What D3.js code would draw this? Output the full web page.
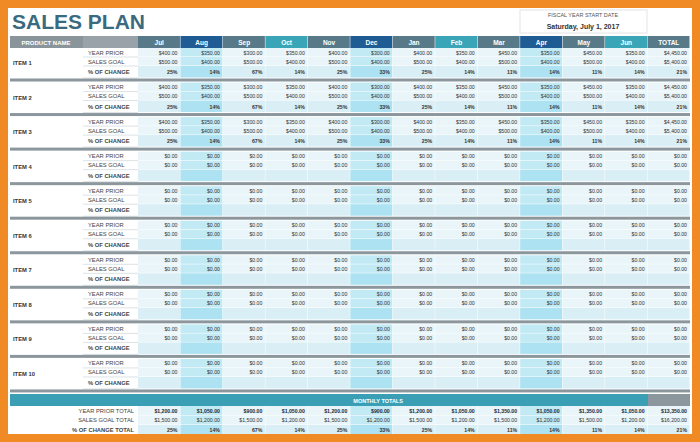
<!DOCTYPE html>
<html><head><meta charset="utf-8">
<script src="https://cdn.jsdelivr.net/npm/d3@7"></script>
<style>body{margin:0;background:#fff}svg{display:block;font-family:"Liberation Sans",Arial,sans-serif}</style>
</head><body><svg id="c" width="700" height="442"></svg>
<script>
const MONTHS = ["Jul","Aug","Sep","Oct","Nov","Dec","Jan","Feb","Mar","Apr","May","Jun","TOTAL"];
const HEAD_KIND = ["s","b","s","t","s","b","s","t","s","b","s","t","s"];
const ITEMS = ["ITEM 1","ITEM 2","ITEM 3","ITEM 4","ITEM 5","ITEM 6","ITEM 7","ITEM 8","ITEM 9","ITEM 10"];
const YEAR_PRIOR = [400,350,300,350,400,300,400,350,450,350,450,350,4450];
const SALES_GOAL = [500,400,500,400,500,400,500,400,500,400,500,400,5400];
const PCT_CHANGE = [25,14,67,14,25,33,25,14,11,14,11,14,21];
const FILLED_ITEMS = 3;
const TOT_PRIOR = [1200,1050,900,1050,1200,900,1200,1050,1350,1050,1350,1050,13350];
const TOT_GOAL = [1500,1200,1500,1200,1500,1200,1500,1200,1500,1200,1500,1200,16200];
const TOT_PCT = [25,14,67,14,25,33,25,14,11,14,11,14,21];

const svg = d3.select("#c");
const fmt = v => "$" + d3.format(",.2f")(v);
const x = d3.scaleBand().domain(MONTHS).range([138, 690]);
const headCol = {s:"#587a88", b:"#1f5c93", t:"#3ba5b8"};
const colBg = m => ["Aug","Dec","Apr"].includes(m) ? "#c2eaf5" : "#e9f5f9";
const pctBg = m => ["Aug","Dec","Apr"].includes(m) ? "#ace2f1" : "#d9eef5";

// frame
svg.append("rect").attr("width",700).attr("height",442).attr("fill","#f08a24");
svg.append("rect").attr("x",8).attr("y",8).attr("width",684).attr("height",426).attr("fill","#fff");

svg.append("text").attr("x",12).attr("y",29).attr("font-size",21).attr("font-weight","bold")
  .attr("fill","#3a6a80").text("SALES PLAN");
svg.append("rect").attr("x",520).attr("y",10).attr("width",127).attr("height",23)
  .attr("fill","#fff").attr("stroke","#e4e4e4");
svg.append("text").attr("x",583).attr("y",17).attr("text-anchor","middle").attr("font-size",5.5)
  .attr("fill","#555").text("FISCAL YEAR START DATE");
svg.append("text").attr("x",583).attr("y",29).attr("text-anchor","middle").attr("font-size",7)
  .attr("font-weight","bold").attr("fill","#333").text("Saturday, July 1, 2017");

// header
svg.append("rect").attr("x",10).attr("y",36).attr("width",73).attr("height",12).attr("fill","#8a959b");
svg.append("rect").attr("x",83).attr("y",36).attr("width",55).attr("height",12).attr("fill","#98a2a8");
svg.append("text").attr("x",46).attr("y",44.5).attr("text-anchor","middle").attr("font-size",6)
  .attr("font-weight","bold").attr("fill","#fff").text("PRODUCT NAME");
const hd = svg.append("g").selectAll("g").data(MONTHS).join("g");
hd.append("rect").attr("x",d=>x(d)).attr("y",36).attr("width",x.bandwidth()-0.5).attr("height",12)
  .attr("fill",(d,i)=>headCol[HEAD_KIND[i]]);
hd.append("text").attr("x",d=>x(d)+x.bandwidth()/2).attr("y",44.5).attr("text-anchor","middle")
  .attr("font-size",6.5).attr("font-weight","bold").attr("fill","#fff").text(d=>d);

function cells(y0, h, vals, bgFn, bold, color) {
  const g = svg.append("g");
  g.selectAll("rect").data(MONTHS).join("rect")
    .attr("x",d=>x(d)).attr("y",y0).attr("width",x.bandwidth()-0.5).attr("height",h-0.5)
    .attr("fill",bgFn);
  g.selectAll("text").data(vals).join("text")
    .attr("x",(d,i)=>x(MONTHS[i])+x.bandwidth()-3).attr("y",y0+h/2+2)
    .attr("text-anchor","end").attr("font-size",5.2).attr("font-weight",bold?"bold":"normal")
    .attr("fill",color).text(d=>d);
}

const yItem = d3.scaleBand().domain(ITEMS).range([48, 393.5]);
ITEMS.forEach((name, k) => {
  const y0 = yItem(name);
  const filled = k < FILLED_ITEMS;
  svg.append("rect").attr("x",10).attr("y",y0).attr("width",128).attr("height",30).attr("fill","#fff");
  svg.append("text").attr("x",13).attr("y",y0+17).attr("font-size",5.8).attr("font-weight","bold")
    .attr("fill","#333").text(name);
  const rows = [["YEAR PRIOR",9,false],["SALES GOAL",9,false],["% OF CHANGE",12,true]];
  let yy = y0;
  rows.forEach(([lab,h,b],r) => {
    svg.append("line").attr("x1",83).attr("x2",138).attr("y1",yy+h).attr("y2",yy+h).attr("stroke","#dde3e6");
    svg.append("text").attr("x",88).attr("y",yy+h/2+2).attr("font-size",5.8)
      .attr("font-weight",b?"bold":"normal").attr("fill","#444").text(lab);
    let vals;
    if (r===0) vals = YEAR_PRIOR.map(v=>filled?fmt(v):"$0.00");
    else if (r===1) vals = SALES_GOAL.map(v=>filled?fmt(v):"$0.00");
    else vals = PCT_CHANGE.map(v=>filled?v+"%":"");
    cells(yy, h, vals, r===2?pctBg:colBg, b, "#333");
    yy += h;
  });
  svg.append("rect").attr("x",10).attr("y",y0+30.5).attr("width",680).attr("height",3).attr("fill","#8c979d");
});

// monthly totals
svg.append("rect").attr("x",10).attr("y",394).attr("width",638).attr("height",12).attr("fill","#3a9fb4");
svg.append("rect").attr("x",648).attr("y",394).attr("width",42).attr("height",12).attr("fill","#8c979d");
svg.append("text").attr("x",x("Dec")+3).attr("y",402.5).attr("font-size",5.5).attr("font-weight","bold")
  .attr("fill","#fff").text("MONTHLY TOTALS");
const totRows = [["YEAR PRIOR TOTAL",TOT_PRIOR.map(fmt),true,false],
  ["SALES GOAL TOTAL",TOT_GOAL.map(fmt),false,false],
  ["% OF CHANGE TOTAL",TOT_PCT.map(v=>v+"%"),true,true]];
let ty = 406;
totRows.forEach(([lab,vals,b,lb],r) => {
  svg.append("text").attr("x",134).attr("y",ty+6.5).attr("text-anchor","end").attr("font-size",5.8)
    .attr("font-weight",lb?"bold":"normal").attr("fill","#444").text(lab);
  cells(ty, 9.5, vals, r===2?pctBg:colBg, b, r===0?"#1a2a3a":"#333");
  ty += 9.5;
});
</script></body></html>
